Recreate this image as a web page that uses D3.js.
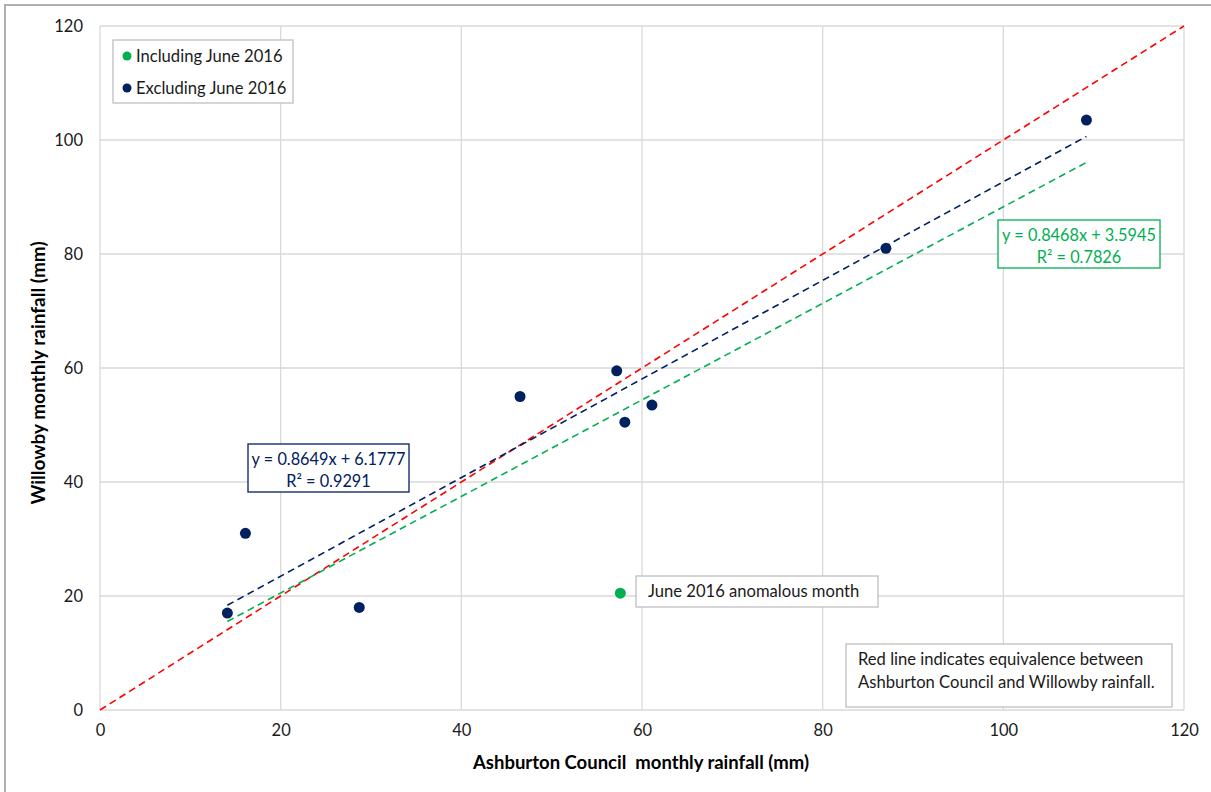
<!DOCTYPE html>
<html>
<head>
<meta charset="utf-8">
<script src="https://cdn.jsdelivr.net/npm/d3@7"></script>
<style>
  html, body { margin: 0; padding: 0; background: #fff; }
  svg { display: block; font-family: Lato, "Open Sans", sans-serif; }
</style>
</head>
<body>
<svg id="chart" width="1211" height="792"></svg>
<script>
// Monthly rainfall pairs (mm): Ashburton Council vs Willowby
const ashburtonExcl = [14.1, 16.1, 28.7, 46.5, 57.2, 58.1, 61.1, 87.0, 109.2];
const willowbyExcl  = [17.0, 31.0, 18.0, 55.0, 59.5, 50.5, 53.5, 81.0, 103.5];
// June 2016 anomalous month
const ashburtonJune = [57.6];
const willowbyJune  = [20.5];

// Linear trend fits
const fitExcl = { slope: 0.8649, intercept: 6.1777, r2: 0.9291 };
const fitIncl = { slope: 0.8468, intercept: 3.5945, r2: 0.7826 };

const xTicks = [0, 20, 40, 60, 80, 100, 120];
const yTicks = [0, 20, 40, 60, 80, 100, 120];

const seriesNames = ["Including June 2016", "Excluding June 2016"];
const colors = { incl: "#00b050", excl: "#002060", equal: "#ff0000" };

const svg = d3.select("#chart");
const m = { left: 100, right: 1184, top: 26, bottom: 710 };

const x = d3.scaleLinear().domain([0, 120]).range([m.left, m.right]);
const y = d3.scaleLinear().domain([0, 120]).range([m.bottom, m.top]);

// Outer chart frame
svg.append("rect").attr("x", 5).attr("y", 5).attr("width", 1230).attr("height", 820)
  .attr("fill", "none").attr("stroke", "#b0b0b0").attr("stroke-width", 2);

// Gridlines
const grid = svg.append("g");
grid.selectAll(".gx").data(xTicks).join("line")
  .attr("x1", d => x(d)).attr("x2", d => x(d))
  .attr("y1", m.top).attr("y2", m.bottom)
  .attr("stroke", "#d9d9d9").attr("stroke-width", 1.3);
grid.selectAll(".gy").data(yTicks).join("line")
  .attr("y1", d => y(d)).attr("y2", d => y(d))
  .attr("x1", m.left).attr("x2", m.right)
  .attr("stroke", "#d9d9d9").attr("stroke-width", 1.3);

// Axes (labels only)
const xAxis = d3.axisBottom(x).tickValues(xTicks).tickSize(0).tickPadding(14);
const yAxis = d3.axisLeft(y).tickValues(yTicks).tickSize(0).tickPadding(17);
const gx = svg.append("g").attr("transform", `translate(0,${m.bottom})`).call(xAxis);
const gy = svg.append("g").attr("transform", `translate(${m.left},0)`).call(yAxis);
[gx, gy].forEach(g => {
  g.select(".domain").remove();
  g.selectAll("text").attr("font-size", 16.5).attr("fill", "#1a1a1a")
    .attr("font-family", "Lato, 'Open Sans', sans-serif");
});

// Axis titles
svg.append("text").attr("x", 641).attr("y", 769).attr("text-anchor", "middle")
  .attr("font-size", 18.5).attr("font-weight", "bold").attr("fill", "#000")
  .style("white-space", "pre")
  .text("Ashburton Council  monthly rainfall (mm)");
svg.append("text").attr("transform", "translate(45,373) rotate(-90)")
  .attr("text-anchor", "middle").attr("font-size", 19).attr("font-weight", "bold").attr("fill", "#000")
  .text("Willowby monthly rainfall (mm)");

// Trend and equivalence lines
const line = d3.line().x(d => x(d[0])).y(d => y(d[1]));
const xMin = d3.min(ashburtonExcl), xMax = d3.max(ashburtonExcl);
const lines = [
  { pts: [[0, 0], [120, 120]], color: colors.equal },
  { pts: [[xMin, fitIncl.slope * xMin + fitIncl.intercept], [xMax, fitIncl.slope * xMax + fitIncl.intercept]], color: colors.incl },
  { pts: [[xMin, fitExcl.slope * xMin + fitExcl.intercept], [xMax, fitExcl.slope * xMax + fitExcl.intercept]], color: colors.excl }
];
svg.append("g").selectAll("path").data(lines).join("path")
  .attr("d", d => line(d.pts)).attr("fill", "none")
  .attr("stroke", d => d.color).attr("stroke-width", 1.6)
  .attr("stroke-dasharray", "7,4.5");

// Points
const ptsExcl = ashburtonExcl.map((v, i) => [v, willowbyExcl[i]]);
const ptsJune = ashburtonJune.map((v, i) => [v, willowbyJune[i]]);
svg.append("g").selectAll("circle").data(ptsExcl).join("circle")
  .attr("cx", d => x(d[0])).attr("cy", d => y(d[1])).attr("r", 5.5).attr("fill", colors.excl);
svg.append("g").selectAll("circle").data(ptsJune).join("circle")
  .attr("cx", d => x(d[0])).attr("cy", d => y(d[1])).attr("r", 5.5).attr("fill", colors.incl);

// Boxed text helper
function box(x0, y0, w, h, stroke, lines, color, anchor, size, step) {
  const g = svg.append("g");
  g.append("rect").attr("x", x0).attr("y", y0).attr("width", w).attr("height", h)
    .attr("fill", "#fff").attr("stroke", stroke).attr("stroke-width", 1.3);
  lines.forEach((t, i) => {
    g.append("text")
      .attr("x", anchor === "middle" ? x0 + w / 2 : x0 + 12)
      .attr("y", y0 + 21 + i * (step || 22))
      .attr("text-anchor", anchor).attr("font-size", size).attr("fill", color).text(t);
  });
  return g;
}

// Legend
const leg = svg.append("g");
leg.append("rect").attr("x", 113).attr("y", 40).attr("width", 180).attr("height", 63)
  .attr("fill", "#fff").attr("stroke", "#bfbfbf").attr("stroke-width", 1.3);
[colors.incl, colors.excl].forEach((c, i) => {
  leg.append("circle").attr("cx", 127).attr("cy", 56 + i * 32).attr("r", 4.5).attr("fill", c);
  leg.append("text").attr("x", 136).attr("y", 62 + i * 32).attr("font-size", 16.6)
    .attr("fill", "#1a1a1a").text(seriesNames[i]);
});

// Fit equations
box(248, 444, 161, 48, colors.excl,
  [`y = ${fitExcl.slope}x + ${fitExcl.intercept}`, `R² = ${fitExcl.r2}`], colors.excl, "middle", 16.3);
box(998, 220, 162, 48, colors.incl,
  [`y = ${fitIncl.slope}x + ${fitIncl.intercept}`, `R² = ${fitIncl.r2}`], colors.incl, "middle", 16.3);

// Annotations
box(636, 576, 242, 31, "#bfbfbf", ["June 2016 anomalous month"], "#1a1a1a", "start", 16.6);
box(846, 644, 326, 63, "#bfbfbf",
  ["Red line indicates equivalence between", "Ashburton Council and Willowby rainfall."], "#1a1a1a", "start", 16.6, 23);
</script>
</body>
</html>
